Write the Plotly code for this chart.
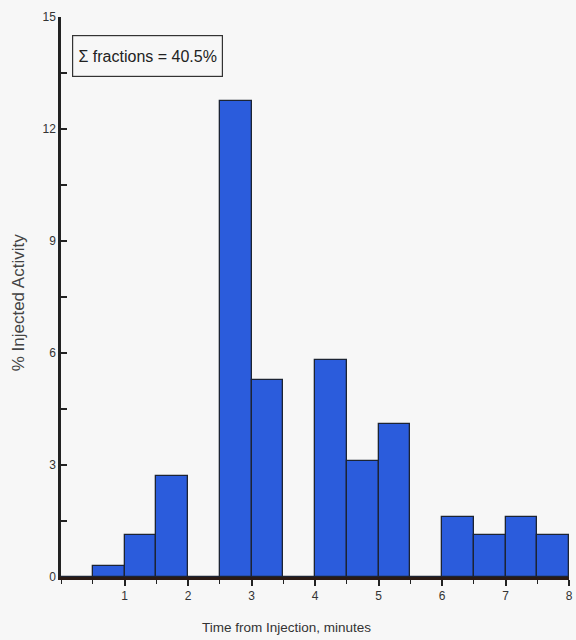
import plotly.graph_objects as go

# bin centers (minutes) and % injected activity per 0.5-min fraction
bin_centers = [0.25, 0.75, 1.25, 1.75, 2.25, 2.75, 3.25, 3.75, 4.25, 4.75, 5.25, 5.75, 6.25, 6.75, 7.25, 7.75]
activity = [0.0, 0.30, 1.12, 2.71, 0.0, 12.75, 5.27, 0.0, 5.82, 3.12, 4.10, 0.0, 1.62, 1.12, 1.62, 1.12]
x_ticks = [1, 2, 3, 4, 5, 6, 7, 8]
y_ticks = [0, 3, 6, 9, 12, 15]

FONT = "Liberation Sans, Arial, sans-serif"
BG = "#f7f7f7"
DARK = "#222222"

fig = go.Figure()
fig.add_trace(go.Bar(
    x=bin_centers, y=activity, width=0.5,
    marker=dict(color="#2b5cdc", line=dict(color="#1c2433", width=1.3)),
))

fig.update_layout(
    width=576, height=640,
    margin=dict(l=61, r=3, t=17, b=63),
    paper_bgcolor=BG, plot_bgcolor=BG,
    showlegend=False,
    bargap=0,
    font=dict(family=FONT, color="#333333", size=12),
    xaxis=dict(
        range=[0, 8], tickvals=x_ticks, ticktext=[str(v) for v in x_ticks],
        showgrid=False, zeroline=False,
        showline=True, linecolor="#2a1a14", linewidth=3,
        ticks="outside", ticklen=6, tickwidth=1.5, tickcolor=DARK,
        minor=dict(dtick=0.5, tick0=0, ticks="outside", ticklen=4, tickcolor=DARK, tickwidth=1),
        tickfont=dict(family=FONT, size=12, color="#333333"),
        ticklabeloverflow="allow",
    ),
    yaxis=dict(
        range=[0, 15], tickvals=y_ticks, ticktext=[str(v) for v in y_ticks],
        showgrid=False, zeroline=False,
        showline=True, linecolor=DARK, linewidth=2.5,
        ticks="inside", ticklen=6, tickwidth=1.5, tickcolor=DARK,
        minor=dict(dtick=1.5, tick0=0, ticks="inside", ticklen=6, tickcolor=DARK, tickwidth=1.5),
        tickfont=dict(family=FONT, size=12, color="#333333"),
        ticklabeloverflow="allow",
    ),
)

fig.add_annotation(
    xref="x", yref="y", x=1.36, y=13.95,
    text="Σ fractions = 40.5%", showarrow=False,
    font=dict(family=FONT, size=16, color="#222222"),
    bordercolor="#333333", borderwidth=1.2, borderpad=0,
    width=149, height=40, bgcolor=BG, xanchor="center", yanchor="middle",
)
fig.add_annotation(
    xref="paper", yref="paper", x=(18 - 61) / 512, y=(577 - 302) / 560,
    text="% Injected Activity", showarrow=False, textangle=-90,
    font=dict(family=FONT, size=17, color="#444444"),
    xanchor="center", yanchor="middle",
)
fig.add_annotation(
    xref="paper", yref="paper", x=(288 - 61) / 512, y=(577 - 627) / 560,
    text="Time from Injection, minutes", showarrow=False,
    font=dict(family=FONT, size=13.5, color="#333333"),
    xanchor="center", yanchor="middle",
)

fig.write_html("out.html")
